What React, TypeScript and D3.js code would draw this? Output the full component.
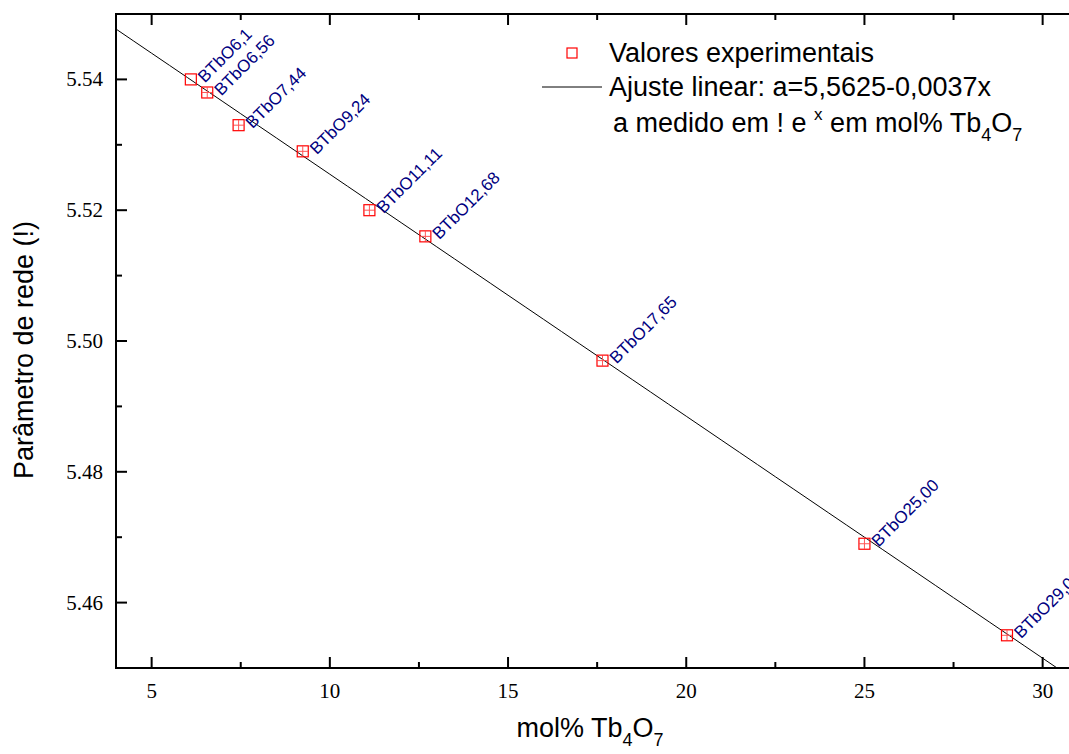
import React, { useEffect, useRef } from 'react'
import * as d3 from 'd3'

const molPct = [6.1, 6.56, 7.44, 9.24, 11.11, 12.68, 17.65, 25.0, 29.0]
const latticeA = [5.54, 5.538, 5.533, 5.529, 5.52, 5.516, 5.497, 5.469, 5.455]
const sampleNames = ['BTbO6,1', 'BTbO6,56', 'BTbO7,44', 'BTbO9,24', 'BTbO11,11', 'BTbO12,68', 'BTbO17,65', 'BTbO25,00', 'BTbO29,00']
const fitIntercept = 5.5625
const fitSlope = -0.0037
const xTicks = [5, 10, 15, 20, 25, 30]
const yTicks = [5.46, 5.48, 5.5, 5.52, 5.54]

const W = 1069
const H = 754

export default function App() {
  const ref = useRef<SVGSVGElement>(null)

  useEffect(() => {
    const svg = d3.select(ref.current)
    svg.selectAll('*').remove()

    const left = 116, top = 14, bottom = 668
    const x = d3.scaleLinear().domain([4, 31.5]).range([left, left + 27.5 * 35.64])
    const y = d3.scaleLinear().domain([5.45, 5.55]).range([bottom, top])
    const right = x(31.5)

    svg.append('defs').append('clipPath').attr('id', 'plotclip')
      .append('rect').attr('x', left).attr('y', top).attr('width', right - left).attr('height', bottom - top)

    // fitted line
    const fit = d3.range(4, 31.6, 0.5).map(v => [v, fitIntercept + fitSlope * v])
    svg.append('path')
      .attr('clip-path', 'url(#plotclip)')
      .attr('d', d3.line<number[]>().x(d => x(d[0])).y(d => y(d[1]))(fit))
      .attr('fill', 'none').attr('stroke', '#000').attr('stroke-width', 1)

    // points + labels
    const pts = svg.append('g')
    molPct.forEach((v, i) => {
      const cx = x(v), cy = y(latticeA[i])
      const g = pts.append('g').attr('transform', `translate(${cx},${cy})`)
      if (i > 0) {
        g.append('line').attr('x1', -5).attr('x2', 5).attr('y1', 0).attr('y2', 0).attr('stroke', '#f55').attr('stroke-width', 1)
        g.append('line').attr('x1', 0).attr('x2', 0).attr('y1', -5).attr('y2', 5).attr('stroke', '#f55').attr('stroke-width', 1)
      }
      g.append('rect').attr('x', -5.5).attr('y', -5.5).attr('width', 11).attr('height', 11)
        .attr('fill', 'none').attr('stroke', '#f00').attr('stroke-width', 1.2)
      svg.append('text')
        .attr('transform', `translate(${cx + 14},${cy + 4}) rotate(-45)`)
        .attr('font-family', 'Liberation Sans, Arial, sans-serif')
        .attr('font-size', 17).attr('fill', '#000080')
        .text(sampleNames[i])
    })

    // frame
    const axis = svg.append('g').attr('stroke', '#000').attr('stroke-width', 2)
    axis.append('line').attr('x1', left).attr('x2', left).attr('y1', top).attr('y2', bottom + 1)
    axis.append('line').attr('x1', left - 1).attr('x2', W).attr('y1', bottom).attr('y2', bottom)
    axis.append('line').attr('x1', left - 1).attr('x2', W).attr('y1', top).attr('y2', top)

    const xMinor = d3.range(7.5, 31, 5)
    xTicks.forEach(t => {
      axis.append('line').attr('x1', x(t)).attr('x2', x(t)).attr('y1', bottom).attr('y2', bottom - 11)
      axis.append('line').attr('x1', x(t)).attr('x2', x(t)).attr('y1', top).attr('y2', top + 11)
    })
    xMinor.forEach(t => {
      axis.append('line').attr('x1', x(t)).attr('x2', x(t)).attr('y1', bottom).attr('y2', bottom - 6)
      axis.append('line').attr('x1', x(t)).attr('x2', x(t)).attr('y1', top).attr('y2', top + 6)
    })
    const yMinor = d3.range(5.45, 5.551, 0.01).filter(v => !yTicks.some(t => Math.abs(t - v) < 1e-6))
    yTicks.forEach(t => {
      axis.append('line').attr('x1', left).attr('x2', left + 11).attr('y1', y(t)).attr('y2', y(t))
    })
    yMinor.forEach(t => {
      axis.append('line').attr('x1', left).attr('x2', left + 6).attr('y1', y(t)).attr('y2', y(t))
    })

    const serif = 'Liberation Serif, Times New Roman, serif'
    svg.append('g').selectAll('text').data(xTicks).join('text')
      .attr('x', d => x(d)).attr('y', 698).attr('text-anchor', 'middle')
      .attr('font-family', serif).attr('font-size', 21).text(d => d)
    svg.append('g').selectAll('text').data(yTicks).join('text')
      .attr('x', 103).attr('y', d => y(d) + 7).attr('text-anchor', 'end')
      .attr('font-family', serif).attr('font-size', 21).text(d => d.toFixed(2))

    const sans = 'Liberation Sans, Arial, sans-serif'
    // x title
    const xt = svg.append('text').attr('x', 590).attr('y', 737).attr('text-anchor', 'middle')
      .attr('font-family', sans).attr('font-size', 27)
    xt.append('tspan').text('mol% Tb')
    xt.append('tspan').attr('dy', 9).attr('font-size', 18).text('4')
    xt.append('tspan').attr('dy', -9).text('O')
    xt.append('tspan').attr('dy', 9).attr('font-size', 18).text('7')

    // y title
    svg.append('text').attr('transform', 'translate(33,350) rotate(-90)')
      .attr('text-anchor', 'middle').attr('font-family', sans).attr('font-size', 27)
      .text('Parâmetro de rede (!)')

    // legend
    svg.append('rect').attr('x', 567).attr('y', 48).attr('width', 10).attr('height', 10)
      .attr('fill', 'none').attr('stroke', '#f00').attr('stroke-width', 1.2)
    svg.append('text').attr('x', 609).attr('y', 62).attr('font-family', sans).attr('font-size', 27)
      .text('Valores experimentais')
    svg.append('line').attr('x1', 542).attr('x2', 602).attr('y1', 87).attr('y2', 87)
      .attr('stroke', '#000').attr('stroke-width', 1)
    svg.append('text').attr('x', 609).attr('y', 96).attr('font-family', sans).attr('font-size', 27)
      .text('Ajuste linear: a=5,5625-0,0037x')
    const l3 = svg.append('text').attr('x', 613).attr('y', 132).attr('font-family', sans).attr('font-size', 27)
    l3.append('tspan').text('a medido em ! e ')
    l3.append('tspan').attr('dy', -12).attr('font-size', 17).text('x')
    l3.append('tspan').attr('dy', 12).text(' em mol% Tb')
    l3.append('tspan').attr('dy', 9).attr('font-size', 18).text('4')
    l3.append('tspan').attr('dy', -9).text('O')
    l3.append('tspan').attr('dy', 9).attr('font-size', 18).text('7')
  }, [])

  return (
    <svg ref={ref} width={W} height={H}
      style={{ position: 'absolute', left: 0, top: 0, background: '#fff' }} />
  )
}
